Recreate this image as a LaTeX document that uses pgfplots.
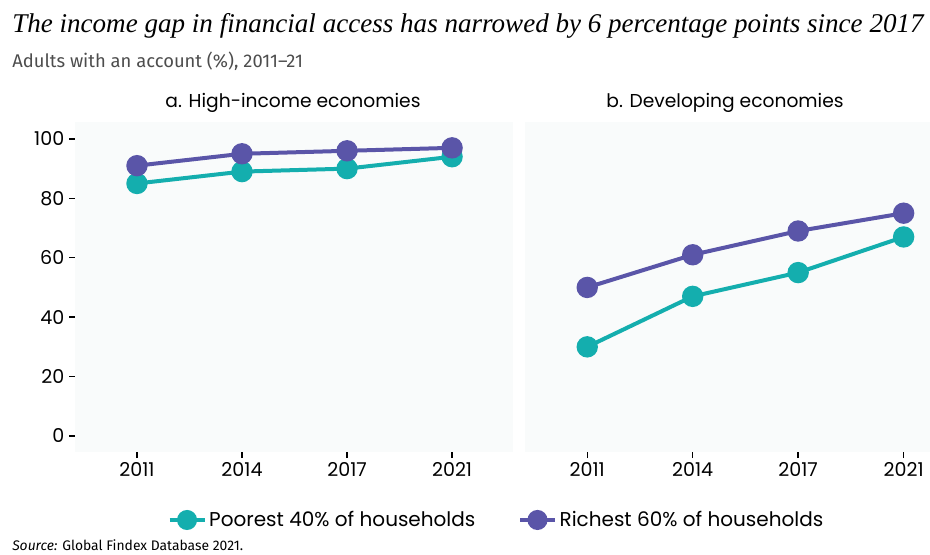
\documentclass[border=0pt]{standalone}
\usepackage{fontspec}
\setmainfont{Poppins}
\newfontfamily\titlefont{Liberation Serif}
\newfontfamily\subfont{Fira Sans}
\usepackage{pgfplots}
\pgfplotsset{compat=1.18}
\definecolor{poorc}{HTML}{14AEAE}
\definecolor{richc}{HTML}{5A55A8}
\definecolor{bgc}{HTML}{F9FBFB}
\definecolor{subc}{HTML}{4D4D4D}

\pgfplotsset{
  panel/.style={
    scale only axis,
    height=247.5pt,
    xmin=-0.59, xmax=3.58, ymin=-5.4, ymax=105.7,
    axis background/.style={fill=bgc},
    axis x line*=bottom, axis y line*=left,
    axis line style={draw=none},
    xtick={0,1,2,3}, xticklabels={2011,2014,2017,2021},
    ytick={0,20,40,60,80,100},
    tick align=outside, major tick length=4.5pt,
    tick style={black, line width=1.1pt},
    ticklabel style={font=\fontsize{14.3}{16}\selectfont},
    /pgf/number format/assume math mode=true,
    clip=false,
  },
  poor/.style={color=poorc, line width=3pt, mark=*, mark size=6.5pt},
  rich/.style={color=richc, line width=3pt, mark=*, mark size=6.5pt},
}

\begin{document}
\begin{tikzpicture}
\useasboundingbox (0,0) rectangle (697.5pt,-416.25pt);
\node[anchor=base west, inner sep=0pt, font=\titlefont\itshape\fontsize{20.3}{24}\selectfont] at (9pt,-24.75pt)
  {The income gap in financial access has narrowed by 6 percentage points since 2017};
\node[anchor=base west, inner sep=0pt, text=subc, font=\subfont\fontsize{13.8}{16}\selectfont] at (9pt,-51pt)
  {Adults with an account (\%), 2011–21};
\node[anchor=base, inner sep=0pt, font=\fontsize{14}{16}\selectfont] at (219.75pt,-81pt) {a. High-income economies};
\node[anchor=base, inner sep=0pt, font=\fontsize{14}{16}\selectfont] at (543.75pt,-81pt) {b. Developing economies};

\begin{axis}[panel, at={(56.25pt,-339pt)}, anchor=south west, width=328.5pt,
  legend style={at={(0.963,-0.206)}, anchor=center, legend columns=2, draw=none, fill=none,
    font=\fontsize{15}{17}\selectfont,
    /tikz/every even column/.append style={column sep=30pt}},
  legend image code/.code={\draw[mark repeat=2,mark phase=2, mark size=6pt] plot coordinates {(0cm,0cm) (0.46cm,0cm) (0.92cm,0cm)};},
]
\addplot[poor] coordinates {(0,85) (1,89) (2,90) (3,94)};
\addlegendentry{Poorest 40\% of households}
\addplot[rich] coordinates {(0,91) (1,95) (2,96) (3,97)};
\addlegendentry{Richest 60\% of households}
\end{axis}

\begin{axis}[panel, at={(393.75pt,-339pt)}, anchor=south west, width=303.75pt,
  xmax=3.25, ytick=\empty]
\addplot[poor] coordinates {(0,30) (1,47) (2,55) (3,67)};
\addplot[rich] coordinates {(0,50) (1,61) (2,69) (3,75)};
\end{axis}

\node[anchor=base west, inner sep=0pt, font=\subfont\fontsize{10.4}{12}\selectfont] at (9pt,-413pt)
  {\textit{Source:} Global Findex Database 2021.};
\end{tikzpicture}
\end{document}
